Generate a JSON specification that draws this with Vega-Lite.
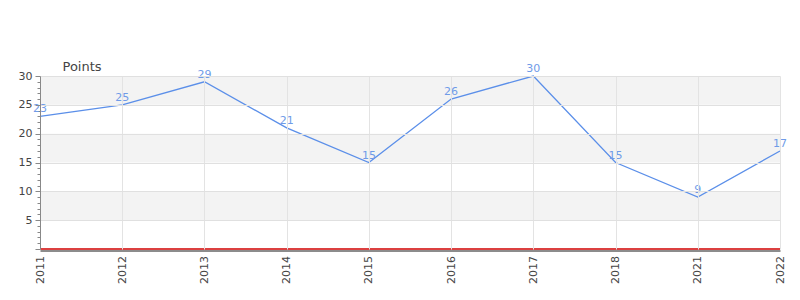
{
  "$schema": "https://vega.github.io/schema/vega-lite/v6.json",
  "width": 740,
  "height": 173,
  "autosize": {"type": "none"},
  "padding": {"left": 40, "top": 76, "right": 20, "bottom": 51},
  "background": "white",
  "config": {
    "view": {"stroke": null},
    "font": "DejaVu Sans"
  },
  "datasets": {
    "points": [
      {"year": "2011", "value": 23},
      {"year": "2012", "value": 25},
      {"year": "2013", "value": 29},
      {"year": "2014", "value": 21},
      {"year": "2015", "value": 15},
      {"year": "2016", "value": 26},
      {"year": "2017", "value": 30},
      {"year": "2018", "value": 15},
      {"year": "2021", "value": 9},
      {"year": "2022", "value": 17}
    ],
    "bands": [
      {"lo": 5, "hi": 10},
      {"lo": 15, "hi": 20},
      {"lo": 25, "hi": 30}
    ]
  },
  "resolve": {"axis": {"y": "independent"}},
  "layer": [
    {
      "data": {"name": "bands"},
      "mark": {"type": "rect", "color": "#f3f3f3"},
      "encoding": {
        "y": {
          "field": "lo", "type": "quantitative",
          "scale": {"domain": [0, 30], "nice": false},
          "axis": {
            "values": [5, 10, 15, 20, 25, 30],
            "labelOverlap": false,
            "labelFontSize": 11, "labelColor": "#444", "labelPadding": 3,
            "tickColor": "#888", "tickSize": 5,
            "grid": true, "gridColor": "#e0e0e0",
            "domainColor": "#888",
            "title": "Points", "titleAngle": 0, "titleAlign": "left", "titleBaseline": "alphabetic",
            "titleX": 22, "titleY": -6, "titleFontSize": 13, "titleFontWeight": "normal", "titleColor": "#444",
            "orient": "left", "zindex": 1
          }
        },
        "y2": {"field": "hi"}
      }
    },
    {
      "data": {"name": "points"},
      "mark": {"type": "line", "color": "#5b8fe9", "strokeWidth": 1.3},
      "encoding": {
        "x": {
          "field": "year", "type": "ordinal", "sort": null,
          "scale": {"type": "point", "padding": 0},
          "axis": {
            "title": null, "labelAngle": -90, "labelFontSize": 11, "labelColor": "#444",
            "labelPadding": 5, "grid": true, "gridColor": "#e3e3e3", "ticks": false,
            "domainColor": "#666", "domainWidth": 1.5, "zindex": 1, "offset": 1.5
          }
        },
        "y": {
          "field": "value", "type": "quantitative",
          "axis": {
            "values": [1,2,3,4,6,7,8,9,11,12,13,14,16,17,18,19,21,22,23,24,26,27,28,29],
            "labels": false, "grid": false, "domain": false, "title": null,
            "tickColor": "#888", "tickSize": 3, "orient": "left"
          }
        }
      }
    },
    {
      "data": {"name": "points"},
      "mark": {"type": "text", "color": "#6f9be8", "fontSize": 11, "baseline": "bottom", "dy": -2},
      "encoding": {
        "x": {"field": "year", "type": "ordinal", "sort": null},
        "y": {
          "field": "value", "type": "quantitative",
          "axis": {
            "values": [0],
            "labels": false, "grid": false, "domain": false, "title": null,
            "tickColor": "#888", "tickSize": 5, "orient": "left"
          }
        },
        "text": {"field": "value", "type": "quantitative"}
      }
    },
    {
      "data": {"values": [{"v": 0}]},
      "mark": {"type": "rule", "color": "#d00000", "strokeWidth": 1.5},
      "encoding": {
        "y": {"field": "v", "type": "quantitative", "axis": null}
      }
    }
  ]
}
